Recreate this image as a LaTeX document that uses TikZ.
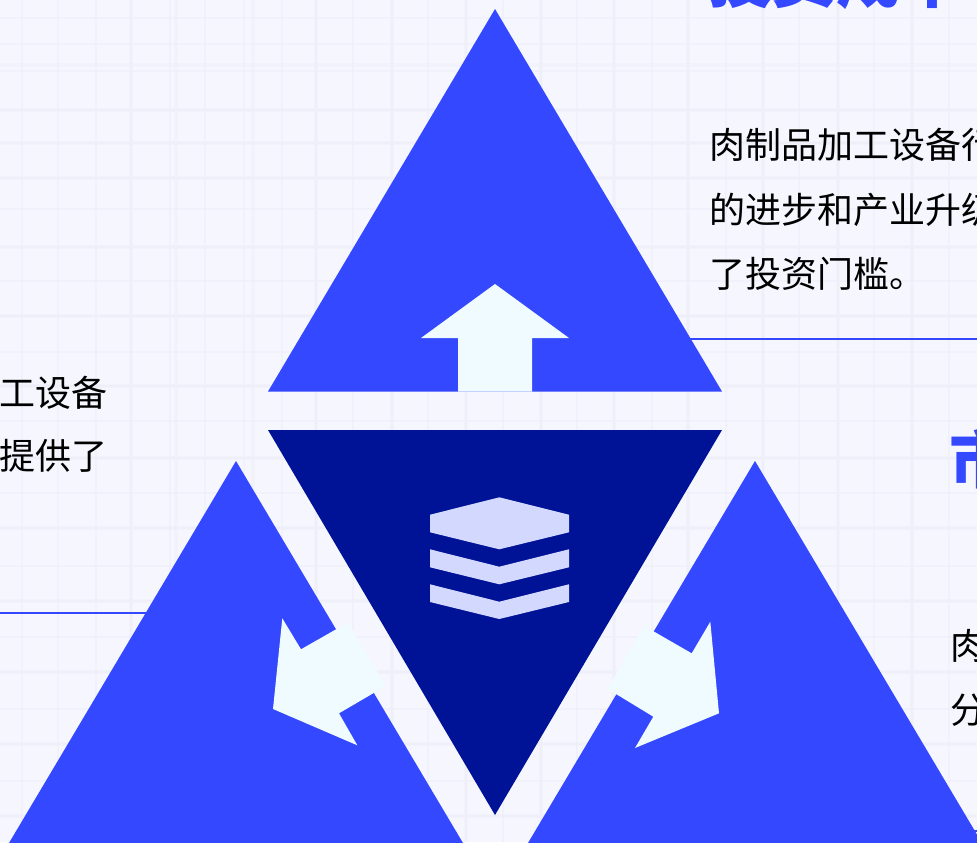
\documentclass[tikz,border=0pt]{standalone}
\usepackage{fontspec}
\setmainfont{Noto Sans CJK SC}
\definecolor{bgc}{HTML}{F6F6FF}
\definecolor{gridc}{HTML}{EFEFF9}
\definecolor{blu}{HTML}{3348FF}
\definecolor{navy}{HTML}{001296}
\definecolor{ice}{HTML}{EFFBFF}
\definecolor{lav}{HTML}{D3D8FF}
\tikzset{
 tri/.style={fill=blu,draw=none},
 darktri/.style={fill=navy,draw=none},
 arrowshape/.style={fill=ice,draw=none},
 stackshape/.style={fill=lav,draw=none},
 rule/.style={draw=blu,line width=0.95pt},
 body/.style={anchor=base west,inner sep=0pt,outer sep=0pt,font=\fontsize{27pt}{27pt}\selectfont,text=black},
 head/.style={anchor=base west,inner sep=0pt,outer sep=0pt,font=\fontsize{48pt}{48pt}\selectfont\bfseries,text=blu},
 faint/.style={draw=gridc,line width=2.4pt,opacity=.55},
 faintn/.style={draw=gridc,line width=1.2pt,opacity=.6}
}
\begin{document}
\begin{tikzpicture}[x=0.75pt,y=-0.75pt]
\clip (0,0) rectangle (977,842);
\fill[bgc] (0,0) rectangle (977,842);
% faint woven background
\foreach \gx in {22,58,96,131,170,205,244,282,316,353,392,428,466,503,541,577,614,652,688,726,763,799,838,874,912,949}{
  \draw[faintn] (\gx,0) -- (\gx,842);}
\foreach \gy in {18,44,71,110,143,178,209,247,281,316,352,386,421,458,493,528,566,601,637,672,709,744,781,816}{
  \draw[faintn] (0,\gy) -- (977,\gy);}
\foreach \gx in {131,176,253,316,392,466,541,614,688,763,838,912}{
  \draw[faint] (\gx,0) -- (\gx,842);}
\foreach \gy in {65,110,143,178,247,316,386,458,528,601,672,744,816}{
  \draw[faint] (0,\gy) -- (977,\gy);}
% rules behind the triangles
\draw[rule] (600,339) -- (977,339);
\draw[rule] (0,613) -- (200,613);
\draw[rule] (960,831) -- (977,831);
% text
\node[head] (t1) at (708,3) {投资成本};
\node[head] (t2) at (949,483) {市};
\node[body] (a1) at (709,158) {肉制品加工设备行};
\node[body] (a2) at (709,223) {的进步和产业升级};
\node[body] (a3) at (709,287) {了投资门槛。};
\node[body,anchor=base east] (b1) at (107,406) {工设备};
\node[body,anchor=base east] (b2) at (107,469) {提供了};
\node[body] (c1) at (950,659) {肉};
\node[body] (c2) at (950,723) {分};
% triangles
\fill[tri] (495,9) -- (722,391.5) -- (268,391.5) -- cycle;
\fill[darktri] (268,430) -- (722,430) -- (495,815) -- cycle;
\fill[tri] (236,461) -- (463,843) -- (9,843) -- cycle;
\fill[tri] (755,461) -- (982,843) -- (528,843) -- cycle;
% arrows
\fill[arrowshape] (495,284) -- (569,338) -- (532,338) -- (532,391.5) -- (458,391.5) -- (458,338) -- (421,338) -- cycle;
\fill[arrowshape] (273,709) -- (282.3,618.3) -- (301,649.3) -- (348.3,622.3) -- (385.7,686) -- (339,713.3) -- (357.3,745.3) -- cycle;
\fill[arrowshape] (719,713.3) -- (710.3,621.7) -- (691.7,653.3) -- (644.3,626) -- (607.3,688.7) -- (653.3,716.7) -- (635,748) -- cycle;
% stack icon
\fill[stackshape] (499.3,497.3) -- (569,514.7) -- (569,532.3) -- (499.3,549.3) -- (430,532.3) -- (430,514.7) -- cycle;
\fill[stackshape] (430,549.3) -- (499.3,566.7) -- (569,549.3) -- (569,567.3) -- (499.3,584.3) -- (430,567.3) -- cycle;
\fill[stackshape] (430,584.3) -- (499.3,601.7) -- (569,584.3) -- (569,602) -- (499.3,619) -- (430,602) -- cycle;
\end{tikzpicture}
\end{document}
